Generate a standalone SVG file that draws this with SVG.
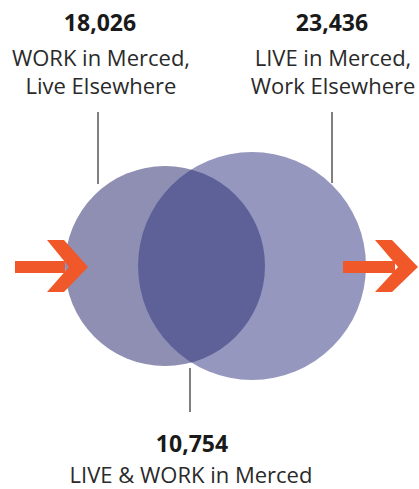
<svg xmlns="http://www.w3.org/2000/svg" width="419" height="489" viewBox="0 0 419 489">
<defs>
<style>
.num{font-family:"Open Sans","Liberation Sans",sans-serif;font-weight:700;font-size:23px;fill:#1a1a1a;text-anchor:middle}
.lbl{font-family:"Open Sans","Liberation Sans",sans-serif;font-size:22px;fill:#2a2a2a;text-anchor:middle}
.ldr{stroke:#555;stroke-width:1.5;fill:none}
.arr{fill:#f0582a}
</style>
<clipPath id="clipL"><circle cx="165" cy="266" r="100"/></clipPath>
</defs>
<rect width="419" height="489" fill="#fff"/>
<g id="circles">
<circle id="left-circle" cx="165" cy="266" r="100" fill="#8e8fb3"/>
<circle id="right-circle" cx="252" cy="266" r="114" fill="#9697bf"/>
<circle id="overlap" cx="252" cy="266" r="114" fill="#5e6197" clip-path="url(#clipL)"/>
</g>
<g id="connectors">
<line class="ldr" x1="98" y1="112" x2="98" y2="184"/>
<line class="ldr" x1="332" y1="112" x2="332" y2="183"/>
<line class="ldr" x1="190" y1="368" x2="190" y2="412"/>
</g>
<g id="arrow-in">
<rect class="arr" x="15" y="261" width="50" height="12"/>
<polygon class="arr" points="47,240 64,240 88,267 64,292 47,292 69,267"/>
</g>
<g id="arrow-out">
<rect class="arr" x="343" y="261" width="52" height="12"/>
<polygon class="arr" points="375,240 392,240 418,267 392,292 375,292 398,267"/>
</g>
<g id="label-work">
<text class="num" x="100" y="31">18,026</text>
<text class="lbl" x="101" y="66">WORK in Merced,</text>
<text class="lbl" x="101" y="94">Live Elsewhere</text>
</g>
<g id="label-live">
<text class="num" x="332" y="31">23,436</text>
<text class="lbl" x="333" y="66">LIVE in Merced,</text>
<text class="lbl" x="333" y="94">Work Elsewhere</text>
</g>
<g id="label-both">
<text class="num" x="192" y="452">10,754</text>
<text class="lbl" x="191" y="483">LIVE &amp; WORK in Merced</text>
</g>
</svg>
